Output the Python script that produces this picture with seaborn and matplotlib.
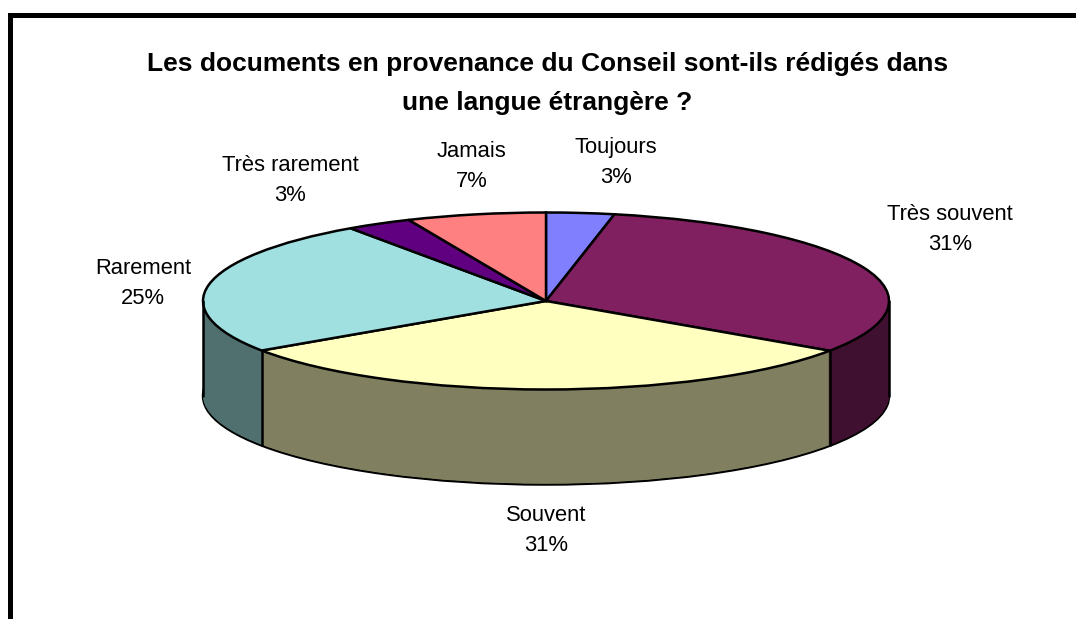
import matplotlib.pyplot as plt
import seaborn as sns
import numpy as np

categories = ["Toujours", "Très souvent", "Souvent", "Rarement", "Très rarement", "Jamais"]
values = [3.2, 31.3, 31.05, 24.8, 3.1, 6.55]
shown_pct = [3, 31, 31, 25, 3, 7]
top_colors = ["#8080ff", "#802060", "#ffffc0", "#a0e0e0", "#600080", "#ff8080"]
wall_colors = ["#404080", "#401030", "#808060", "#507070", "#300040", "#804040"]
title = "Les documents en provenance du Conseil sont-ils rédigés dans\nune langue étrangère ?"

# label centres in pixels of the picture
label_x = [616, 950, 546, 143, 290, 472]
label_y = [162.5, 229.5, 530.5, 283.5, 180.5, 166.5]

W, H = 1076, 619
cx, cy = 546, 301
rx, ry = 343, 88.5
depth = 95
squash = ry / rx

sns.set_theme(style="white")
plt.rcParams["font.family"] = ["Liberation Sans", "DejaVu Sans"]

fig = plt.figure(figsize=(W / 100, H / 100), dpi=100, facecolor="white")
ax = fig.add_axes([0, 0, 1, 1])

# y axis runs in pie units, so a round pie comes out flattened
y_range = H / squash
yc = (H - cy) / squash
d = depth / squash
pie_args = dict(startangle=90, counterclock=False, radius=rx)

# side wall: stack of dark pies
ax.pie(values, colors=wall_colors, center=(cx, yc - d),
       wedgeprops=dict(edgecolor="black", linewidth=1.8), **pie_args)
for off in np.arange(d - 1.5 / squash * 0.5, 0, -0.5 / squash):
    ax.pie(values, colors=wall_colors, center=(cx, yc - off),
           wedgeprops=dict(linewidth=0), **pie_args)

# vertical edges of the wall
bounds = np.cumsum(values) / sum(values) * 2 * np.pi
for b in bounds:
    if np.cos(b) < 0:
        x = cx + rx * np.sin(b)
        y = yc + rx * np.cos(b)
        ax.plot([x, x], [y, y - d], color="black", lw=1.8, solid_capstyle="butt")
for x in [cx - rx, cx + rx]:
    ax.plot([x, x], [yc, yc - d], color="black", lw=1.8, solid_capstyle="round")

# top face
ax.pie(values, colors=top_colors, center=(cx, yc),
       wedgeprops=dict(edgecolor="black", linewidth=1.8), **pie_args)

ax.set_aspect("auto")
ax.set_xlim(0, W)
ax.set_ylim(0, y_range)
ax.axis("off")

# thick frame, only left and top are in the picture
fig.add_artist(plt.Rectangle((8 / W, 0), 5 / W, 1 - 13 / H, transform=fig.transFigure,
                             facecolor="black", edgecolor="none"))
fig.add_artist(plt.Rectangle((8 / W, 1 - 18 / H), 1, 5 / H, transform=fig.transFigure,
                             facecolor="black", edgecolor="none"))

fig.text(547.5 / W, 1 - 83.5 / H, title, ha="center", va="center", fontsize=19,
         fontweight="bold", color="black", linespacing=1.78)

for name, pct, x, y in zip(categories, shown_pct, label_x, label_y):
    fig.text(x / W, 1 - y / H, f"{name}\n{pct}%", ha="center", va="center",
             fontsize=15.8, color="black", linespacing=1.55)

fig.savefig("out.png", dpi=100)
